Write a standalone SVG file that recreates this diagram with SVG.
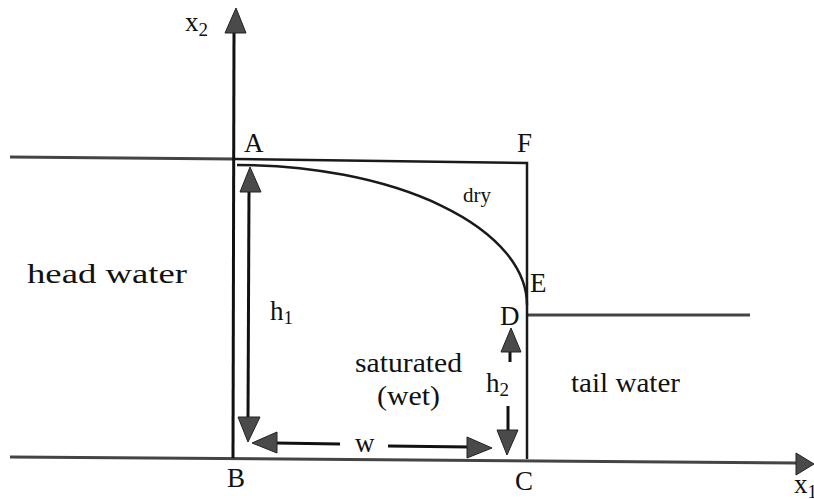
<svg xmlns="http://www.w3.org/2000/svg" width="814" height="499" viewBox="0 0 814 499">
<style>
.t{font-family:"Liberation Serif","DejaVu Serif","Noto Serif","Times New Roman",serif;fill:#111;font-size:27px}
.s{font-size:19px}
.ax{stroke:#111;stroke-width:3;fill:none}
.bx{stroke:#1a1a1a;stroke-width:2.5;fill:none}
.wl{stroke:#444;stroke-width:3;fill:none}
.ah{fill:#4a4a4a;stroke:#222;stroke-width:1}
.sh{stroke:#111;stroke-width:3;fill:none}
</style>
<rect width="814" height="499" fill="#fff"/>
<g id="connectors">
  <line class="wl" x1="10" y1="157" x2="234" y2="159"/>
  <line class="wl" x1="10" y1="457" x2="798" y2="463"/>
  <line class="wl" x1="527" y1="315" x2="750" y2="315"/>
  <line class="ax" x1="234" y1="30" x2="233" y2="458"/>
  <polygon class="ah" points="236,8 225,33 246,33"/>
  <polygon class="ah" points="814,464 796,453 796,475"/>
  <polyline class="bx" points="234,159 527,163 527,459"/>
  <path class="bx" d="M237,165 A290,140 0 0 1 527,305"/>
  <line class="sh" x1="249" y1="190" x2="248" y2="420"/>
  <polygon class="ah" points="250,167 240,192 261,192"/>
  <polygon class="ah" points="248,442 238,417 260,417"/>
  <line class="sh" x1="275" y1="443" x2="340" y2="444"/>
  <line class="sh" x1="388" y1="446" x2="470" y2="447"/>
  <polygon class="ah" points="252,443 277,432 277,453"/>
  <polygon class="ah" points="492,448 467,437 467,458"/>
  <line class="sh" x1="510" y1="350" x2="510" y2="362"/>
  <line class="sh" x1="508" y1="406" x2="508" y2="432"/>
  <polygon class="ah" points="511,328 501,352 521,352"/>
  <polygon class="ah" points="507,455 497,430 518,430"/>
</g>
<g id="axis-labels">
  <text class="t" x="185" y="31">x<tspan class="s" dy="5">2</tspan></text>
  <text class="t" x="794" y="493">x<tspan class="s" dy="5">1</tspan></text>
</g>
<g id="points">
  <text class="t" x="244" y="152">A</text>
  <text class="t" x="517" y="152">F</text>
  <text class="t" x="530" y="292">E</text>
  <text class="t" x="500" y="325">D</text>
  <text class="t" x="227" y="487">B</text>
  <text class="t" x="515" y="490">C</text>
</g>
<g id="regions">
  <text class="t" x="463" y="202" style="font-size:21px">dry</text>
  <text class="t" x="27" y="283" textLength="160" lengthAdjust="spacingAndGlyphs">head water</text>
  <text class="t" x="571" y="392" textLength="109" lengthAdjust="spacingAndGlyphs">tail water</text>
  <text class="t" x="355" y="372" textLength="107" lengthAdjust="spacingAndGlyphs">saturated</text>
  <text class="t" x="377" y="405" textLength="63" lengthAdjust="spacingAndGlyphs">(wet)</text>
</g>
<g id="dimensions">
  <text class="t" x="270" y="320">h<tspan class="s" dy="4">1</tspan></text>
  <text class="t" x="486" y="392">h<tspan class="s" dy="4">2</tspan></text>
  <text class="t" x="355" y="452">w</text>
</g>
</svg>
